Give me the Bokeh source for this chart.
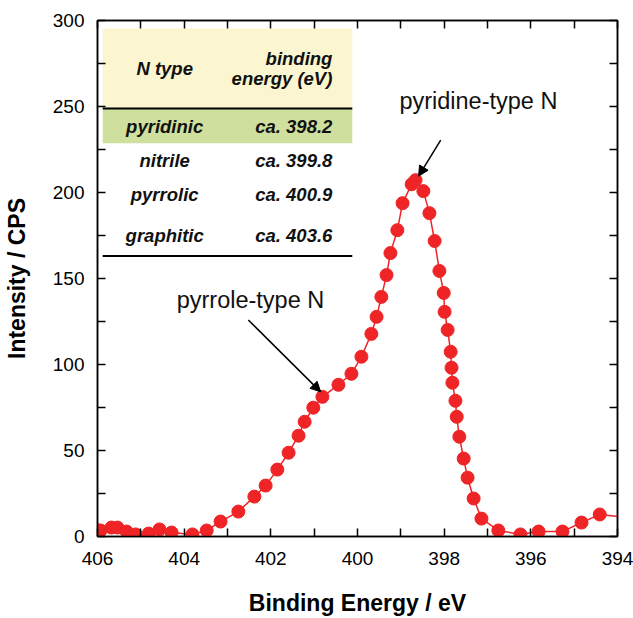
from bokeh.plotting import figure
from bokeh.models import Range1d, LinearAxis, Arrow, NormalHead, FixedTicker
from bokeh.core.properties import value
from bokeh.embed import file_html
from bokeh.resources import INLINE

# --- data ---
energy = [406.02, 405.93, 405.68, 405.54, 405.33, 405.12, 404.82, 404.57, 404.29, 403.81, 403.48,
          403.16, 402.75, 402.38, 402.12, 401.85, 401.59, 401.36, 401.22, 401.02,
          400.81, 400.44, 400.14, 399.91, 399.68, 399.56, 399.45, 399.33, 399.24,
          399.08, 398.96, 398.75, 398.66, 398.48, 398.34, 398.22, 398.11, 398.01,
          397.99, 397.92, 397.85, 397.83, 397.81, 397.74, 397.71, 397.65, 397.55,
          397.46, 397.32, 397.14, 396.75, 396.24, 395.82, 395.27, 394.83, 394.41,
          393.80]
intensity = [3.8, 3.5, 5.2, 5.2, 2.9, 1.2, 1.7, 4.1, 2.3, 1.2, 3.5,
             8.7, 14.5, 23.2, 29.6, 38.9, 48.7, 58.6, 66.7, 74.9,
             81.2, 88.2, 94.6, 104.5, 117.8, 127.7, 139.3, 152.0, 164.8,
             178.1, 193.8, 204.8, 207.2, 200.8, 188.0, 171.8, 154.4, 141.6,
             130.6, 120.1, 107.4, 98.1, 89.4, 78.9, 69.6, 58.0, 45.3,
             34.2, 22.1, 10.4, 3.5, 1.2, 2.9, 2.9, 8.1, 12.8,
             11.2]

x_ticks = [406, 404, 402, 400, 398, 396, 394]
x_minor = [405, 403, 401, 399, 397, 395]
y_ticks = [0, 50, 100, 150, 200, 250, 300]
y_minor = [25, 75, 125, 175, 225, 275]

n_types = ["pyridinic", "nitrile", "pyrrolic", "graphitic"]
binding_energies = ["ca. 398.2", "ca. 399.8", "ca. 400.9", "ca. 403.6"]

RED = "#EE2426"
FONT = "Liberation Sans"

p = figure(width=633, height=618, output_backend="svg", toolbar_location=None,
           x_range=Range1d(406, 394), y_range=Range1d(0, 300),
           min_border_left=97, min_border_right=16, min_border_top=20, min_border_bottom=81)
p.grid.visible = False
p.outline_line_color = "black"
p.outline_line_width = 1.5
p.background_fill_color = "white"
p.border_fill_color = "white"


def style_axis(ax, ticks, minor):
    ax.ticker = FixedTicker(ticks=ticks, minor_ticks=minor)
    ax.major_tick_in = 8
    ax.major_tick_out = 0
    ax.minor_tick_in = 8
    ax.minor_tick_out = 0
    ax.axis_line_width = 1.5
    ax.major_tick_line_width = 1.5
    ax.minor_tick_line_width = 1.5
    ax.axis_line_color = "black"
    ax.major_tick_line_color = "black"
    ax.minor_tick_line_color = "black"
    ax.major_label_text_font = FONT
    ax.major_label_text_font_size = "19px"
    ax.major_label_text_color = "black"
    ax.axis_label_text_font = FONT
    ax.axis_label_text_font_size = "23px"
    ax.axis_label_text_font_style = "bold"
    ax.axis_label_text_color = "black"


xa = p.xaxis[0]
style_axis(xa, x_ticks, x_minor)
xa.axis_label = "Binding Energy / eV"
xa.major_label_standoff = 15
xa.axis_label_standoff = 22

ya = p.yaxis[0]
style_axis(ya, y_ticks, y_minor)
ya.axis_label = "Intensity / CPS"
ya.major_label_standoff = 13
ya.axis_label_standoff = 20

top = LinearAxis()
style_axis(top, x_ticks, x_minor)
top.major_label_overrides = {t: "" for t in x_ticks}
top.major_label_standoff = 0
p.add_layout(top, "above")

right = LinearAxis()
style_axis(right, y_ticks, y_minor)
right.major_label_overrides = {t: "" for t in y_ticks}
right.major_label_standoff = 0
p.add_layout(right, "right")

# --- table inset ---
p.quad(left=[405.88], right=[400.12], top=[295.4], bottom=[248.9],
       fill_color="#FBF6D0", line_color=None)
p.quad(left=[405.88], right=[400.12], top=[248.9], bottom=[228.6],
       fill_color="#CFE09E", line_color=None)
p.segment(x0=[405.88, 405.88], x1=[400.12, 400.12], y0=[248.9, 163.1], y1=[248.9, 163.1],
          line_color="black", line_width=2)

row_y = [238.5, 218.8, 199.0, 175.2]
tstyle = dict(text_font=value(FONT), text_font_style="bold italic",
              text_font_size="18.5px", text_color="#111111", text_baseline="middle")
p.text(x=[404.45], y=[272.2], text=["N type"], text_align="center", **tstyle)
p.text(x=[400.58, 400.58], y=[278.0, 266.3], text=["binding", "energy (eV)"],
       text_align="right", **tstyle)
p.text(x=[404.45] * 4, y=row_y, text=n_types, text_align="center", **tstyle)
p.text(x=[400.58] * 4, y=row_y, text=binding_energies, text_align="right", **tstyle)

# --- data ---
p.line(energy, intensity, line_color=RED, line_width=1.5)
p.scatter(energy, intensity, size=13, fill_color=RED, line_color=RED)

# --- annotations ---
astyle = dict(text_font=value(FONT), text_font_size="23.5px", text_color="#111111",
              text_baseline="middle", text_align="center")
p.text(x=[397.21], y=[253.0], text=["pyridine-type N"], **astyle)
p.text(x=[402.47], y=[137.5], text=["pyrrole-type N"], **astyle)

p.add_layout(Arrow(end=NormalHead(size=10, fill_color="black", line_color="black"),
                   x_start=398.08, y_start=230.4, x_end=398.59, y_end=209.5,
                   line_width=1.5, line_color="black"))
p.add_layout(Arrow(end=NormalHead(size=10, fill_color="black", line_color="black"),
                   x_start=402.52, y_start=125.9, x_end=400.85, y_end=84.1,
                   line_width=1.5, line_color="black"))

open("out.html", "w").write(file_html(p, INLINE))
